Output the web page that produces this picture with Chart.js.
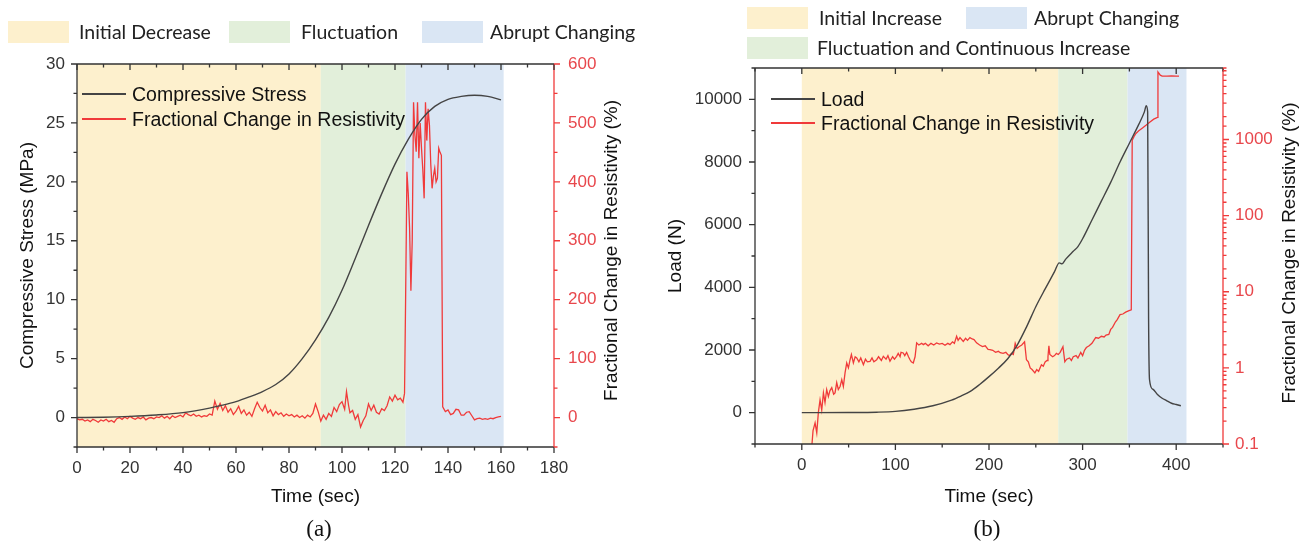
<!DOCTYPE html>
<html>
<head>
<meta charset="utf-8">
<script src="https://cdn.jsdelivr.net/npm/chart.js@4"></script>
<style>
  body { margin: 0; background: #fff; }
  #page { position: relative; width: 1307px; height: 549px; overflow: hidden; font-family: "Liberation Sans", Arial, sans-serif; }
  canvas { position: absolute; top: 0; }
  .patch { position: absolute; width: 61px; height: 22px; }
  .rlab { position: absolute; font-family: Lato, "Open Sans", sans-serif; font-size: 19.5px; color: #222; line-height: 22px; white-space: nowrap; }
  .sline { position: absolute; width: 44px; height: 2px; }
  .slab { position: absolute; font-size: 19.5px; color: #111; line-height: 22px; white-space: nowrap; }
  .cap { position: absolute; font-family: "Liberation Serif", "Times New Roman", serif; font-size: 23px; color: #111; transform: translateX(-50%); }
</style>
</head>
<body>
<div id="page">
  <canvas id="chartA" width="655" height="549" style="left:0"></canvas>
  <canvas id="chartB" width="652" height="549" style="left:655px"></canvas>

  <!-- phase legend (a) -->
  <div class="patch" style="left:8px;top:21px;background:rgb(253,240,205)"></div>
  <div class="rlab" style="left:79px;top:21px">Initial Decrease</div>
  <div class="patch" style="left:229px;top:21px;background:rgb(226,239,218)"></div>
  <div class="rlab" style="left:301px;top:21px">Fluctuation</div>
  <div class="patch" style="left:422px;top:21px;background:rgb(218,230,244)"></div>
  <div class="rlab" style="left:490px;top:21px">Abrupt Changing</div>

  <!-- phase legend (b) -->
  <div class="patch" style="left:747px;top:7px;background:rgb(253,240,205)"></div>
  <div class="rlab" style="left:819px;top:7px">Initial Increase</div>
  <div class="patch" style="left:966px;top:7px;background:rgb(218,230,244)"></div>
  <div class="rlab" style="left:1034px;top:7px">Abrupt Changing</div>
  <div class="patch" style="left:747px;top:37px;background:rgb(226,239,218)"></div>
  <div class="rlab" style="left:817px;top:37px">Fluctuation and Continuous Increase</div>

  <!-- series legend (a) -->
  <div class="sline" style="left:82px;top:93px;background:#444"></div>
  <div class="slab" style="left:132px;top:83px">Compressive Stress</div>
  <div class="sline" style="left:82px;top:118px;background:#f03a3a"></div>
  <div class="slab" style="left:132px;top:108px">Fractional Change in Resistivity</div>

  <!-- series legend (b) -->
  <div class="sline" style="left:771px;top:98px;background:#444"></div>
  <div class="slab" style="left:821px;top:88px">Load</div>
  <div class="sline" style="left:771px;top:122px;background:#f03a3a"></div>
  <div class="slab" style="left:821px;top:112px">Fractional Change in Resistivity</div>

  <div class="cap" style="left:319px;top:516px">(a)</div>
  <div class="cap" style="left:987px;top:516px">(b)</div>
</div>

<script>
// ---------- data (a) ----------
const timeStressA = [0, 10, 20, 30, 40, 50, 55, 60, 65, 70, 75, 80, 85, 90, 95, 100, 105, 110, 115, 120, 125, 130, 135, 140, 145, 150, 155, 160];
const stressA = [0, 0.03, 0.1, 0.22, 0.42, 0.8, 1.05, 1.35, 1.75, 2.2, 2.8, 3.7, 5.0, 6.6, 8.5, 10.8, 13.5, 16.3, 19.0, 21.5, 23.6, 25.3, 26.4, 27.0, 27.25, 27.35, 27.25, 26.95];

const timeResistA = [0, 1, 2, 3, 4, 5, 6, 7, 8, 9, 10, 11, 12, 13, 14, 15, 16, 17, 18, 19, 20, 21, 22, 23, 24, 25, 26, 27, 28, 29,
  30, 31, 32, 33, 34, 35, 36, 37, 38, 39, 40, 41, 42, 43, 44, 45, 46, 47, 48, 49, 50, 51, 52, 53, 54, 55, 56, 57, 58, 59,
  60, 61, 62, 63, 64, 65, 66, 67, 68, 69, 70, 71, 72, 73, 74, 75, 76, 77, 78, 79, 80, 81, 82, 83, 84, 85, 86, 87, 88, 89,
  90, 91, 92, 93, 94, 95, 96, 97, 98, 99, 100, 101, 101.7, 102.5, 103, 104, 105, 106, 107, 108, 109, 110, 111, 112, 113, 114,
  115, 116, 117, 118, 119, 120, 121, 122, 123, 123.6, 124, 124.5, 125, 125.5, 126, 126.5, 127, 127.5, 128, 128.5, 129, 129.5,
  130, 130.5, 131, 131.5, 132, 132.5, 133, 133.5, 134, 134.5, 135, 135.5, 136, 136.5, 137, 137.5, 138, 139, 140, 141, 142,
  143, 144, 145, 146, 147, 148, 149, 150, 151, 152, 153, 154, 155, 156, 157, 158, 159, 160];
const resistA = [-2, -4, -3, -6, -4, -7, -3, -5, -8, -4, -6, -3, -7, -5, -8, -2, 0, -3, 1, -2, 2, -1, -3, 0, -2, 1, -4, -1, 0, -2,
  1, 0, 3, -1, 2, -2, 3, 0, 2, 4, 1, 8, 5, 3, 6, 2, 4, 1, 3, 2, 6, 4, 28, 14, 24, 12, 20, 9, 15, 5,
  11, 19, 7, 13, 4, 9, 2, 15, 26, 17, 11, 21, 8, 13, 3, 10, 5, 8, 2, 6, 3, 5, 1, 4, 0, 3, -1, 4, 1, 7,
  23, 10, -6, 4, -3, 7, 2, 17, 10, 22, 27, 14, 44, 20, 8, 12, -3, 5, -16, -5, 3, 23, 12, 21, 9, 6,
  15, 12, 20, 35, 28, 38, 30, 33, 26, 41, 200, 417, 380, 322, 215, 300, 535, 480, 451, 535, 440, 500,
  457, 420, 372, 535, 470, 524, 496, 430, 389, 410, 423, 400, 406, 457, 450, 445, 18, 10, 13, 5, 7,
  14, 13, 4, 4, 9, 10, 3, -4, -2, -1, -3, -2, -3, -1, -2, 0, 1, 2];

const bandStartA = [0, 92, 124];
const bandEndA = [92, 124, 161];

// ---------- data (b) ----------
const timeLoadB = [0, 50, 80, 100, 120, 140, 160, 170, 180, 190, 200, 210, 220, 230, 240, 250, 260, 270, 275, 278, 282, 290, 295, 300,
  310, 320, 330, 340, 350, 360, 366, 368, 369.5, 370.5, 371.5, 375, 380, 385, 390, 395, 400, 405];
const loadB = [0, 5, 15, 40, 110, 220, 400, 530, 680, 900, 1150, 1420, 1720, 2150, 2730, 3380, 3950, 4500, 4780, 4750, 4900, 5150, 5300, 5550,
  6150, 6750, 7350, 8000, 8600, 9200, 9600, 9800, 9600, 3000, 1050, 750, 580, 460, 380, 300, 260, 220];

const timeResistB = [8, 10.6, 12, 14.2, 16, 17.7, 19.5, 21.3, 23.1, 24.8, 26.6, 28.4, 30, 32, 34, 35.5, 37.3, 39, 40.9, 42.7,
  44.4, 46.2, 48, 49.8, 51.6, 53, 55.1, 57, 58.7, 61, 63, 65.8, 68, 70, 72.9, 75, 77, 80, 82, 85, 87.1, 90, 92, 94.2, 97, 99,
  101.3, 103, 105, 106, 108.4, 110, 112, 114, 115.6, 117, 119.1, 121, 122.7, 125, 128, 129.8, 132, 135, 138, 141, 144, 147,
  150, 153, 156, 158.3, 161, 163, 165.4, 167, 169, 172.5, 175, 177, 179.6, 182, 184, 186.7, 190, 193, 196, 199, 201, 204,
  207, 210, 212, 215, 218, 220, 222, 224, 226, 228, 230, 232, 235, 238, 240, 242, 244, 246, 249, 251, 253, 256, 258, 260,
  262, 263, 264, 265, 268, 270, 272, 274, 276, 279, 281, 283, 286, 288, 290, 293, 295, 298, 300, 302, 304, 307, 310, 312,
  314, 317, 320, 323, 325, 328, 330, 332, 335, 337, 340, 343, 346, 349, 352, 353, 355, 357, 360, 364, 368, 372, 376, 380,
  380.5, 383, 385, 390, 395, 400, 403];
const resistB = [0.05, 0.09, 0.15, 0.19, 0.14, 0.26, 0.38, 0.28, 0.47, 0.35, 0.52, 0.42, 0.5, 0.55, 0.45, 0.47, 0.64, 0.52, 0.57, 0.7,
  0.57, 0.86, 1.16, 1.0, 1.28, 1.5, 1.16, 1.4, 1.35, 1.2, 1.35, 1.1, 1.3, 1.2, 1.22, 1.35, 1.2, 1.28, 1.4, 1.25, 1.42, 1.3, 1.45, 1.22, 1.4, 1.3,
  1.42, 1.55, 1.4, 1.6, 1.57, 1.45, 1.6, 1.4, 1.28, 1.2, 1.16, 1.4, 2.13, 2.0, 2.1, 2.02, 2.1, 1.95, 2.1, 2.0, 2.13, 2.05,
  2.1, 1.98, 2.1, 2.02, 2.2, 2.1, 2.6, 2.3, 2.5, 2.23, 2.45, 2.3, 2.5, 2.4, 2.35, 2.13, 2.0, 1.9, 1.95, 1.75, 1.74, 1.7,
  1.6, 1.65, 1.58, 1.55, 1.6, 1.5, 1.45, 1.55, 1.5, 2.1, 1.8, 1.9, 2.0, 2.2, 1.28, 1.2, 1.0, 0.95, 0.86, 0.95, 0.9, 1.1, 1.05, 1.2,
  1.25, 1.4, 1.95, 1.5, 1.4, 1.45, 1.55, 1.5, 1.6, 1.9, 1.2, 1.3, 1.35, 1.25, 1.4, 1.45, 1.35, 1.6, 1.45, 1.7, 1.85, 1.95, 2.1, 2.3,
  2.5, 2.45, 2.6, 2.55, 2.7, 2.75, 3.2, 3.4, 4.0, 4.3, 5.0, 5.1, 5.4, 5.6, 5.8, 980, 1100, 1200, 1300, 1420, 1550, 1700, 1850, 1950,
  7700, 7000, 6800, 6800, 6850, 6800, 6800];

const bandStartB = [0, 274, 348];
const bandEndB = [274, 348, 411];

const bandColors = ['rgb(253,240,205)', 'rgb(226,239,218)', 'rgb(218,230,244)'];
const RED = '#f03a3a';
const DARK = '#444';

function pairs(xs, ys) {
    return xs.map((x, i) => ({ x: x, y: ys[i] }));
}

// shading, frame, tick marks and the rotated right-hand title
const framePlugin = {
    id: 'frame',
    beforeDatasetsDraw(chart, args, opts) {
        const { ctx, chartArea: a } = chart;
        const xs = chart.scales.x;
        ctx.save();
        opts.bandStart.forEach((b, i) => {
            const x0 = xs.getPixelForValue(b);
            const x1 = xs.getPixelForValue(opts.bandEnd[i]);
            ctx.fillStyle = bandColors[i];
            ctx.fillRect(x0, a.top, x1 - x0, a.bottom - a.top);
        });
        ctx.restore();
    },
    afterDraw(chart, args, opts) {
        const { ctx, chartArea: a } = chart;
        ctx.save();
        ctx.lineWidth = 1.3;

        // frame: left, bottom, top dark; right red
        ctx.strokeStyle = '#333';
        ctx.beginPath();
        ctx.moveTo(a.left, a.top); ctx.lineTo(a.right, a.top);
        ctx.moveTo(a.left, a.top); ctx.lineTo(a.left, a.bottom); ctx.lineTo(a.right, a.bottom);
        ctx.stroke();
        ctx.strokeStyle = RED;
        ctx.beginPath();
        ctx.moveTo(a.right, a.top); ctx.lineTo(a.right, a.bottom);
        ctx.stroke();

        const tickLen = t => (t.label === '' ? 3.5 : 6);
        // x ticks, out at the bottom and in from the top
        const xs = chart.scales.x;
        ctx.strokeStyle = '#333';
        ctx.beginPath();
        xs.ticks.forEach(t => {
            const p = xs.getPixelForValue(t.value);
            ctx.moveTo(p, a.bottom); ctx.lineTo(p, a.bottom + tickLen(t));
            ctx.moveTo(p, a.top); ctx.lineTo(p, a.top + tickLen(t));
        });
        ctx.stroke();
        // left ticks
        const yl = chart.scales.y;
        ctx.beginPath();
        yl.ticks.forEach(t => {
            const p = yl.getPixelForValue(t.value);
            ctx.moveTo(a.left, p); ctx.lineTo(a.left - tickLen(t), p);
        });
        ctx.stroke();
        // right ticks
        const yr = chart.scales.y2;
        ctx.strokeStyle = RED;
        ctx.beginPath();
        yr.ticks.forEach(t => {
            const p = yr.getPixelForValue(t.value);
            ctx.moveTo(a.right, p); ctx.lineTo(a.right + tickLen(t), p);
        });
        ctx.stroke();

        // right axis title, reading bottom to top
        ctx.translate(a.right + opts.titleOffset, (a.top + a.bottom) / 2 + opts.titleShift);
        ctx.rotate(-Math.PI / 2);
        ctx.font = '19px "Liberation Sans", Arial, sans-serif';
        ctx.fillStyle = '#111';
        ctx.textAlign = 'center';
        ctx.textBaseline = 'middle';
        ctx.fillText('Fractional Change in Resistivity (%)', 0, 0);
        ctx.restore();
    }
};

const tickFont = { family: '"Liberation Sans", Arial, sans-serif', size: 17 };
const titleFont = { family: '"Liberation Sans", Arial, sans-serif', size: 19 };

function linearAxis(opts) {
    return {
        type: 'linear',
        position: opts.position,
        min: opts.min,
        max: opts.max,
        grid: { display: false, drawTicks: false },
        border: { display: false },
        ticks: {
            stepSize: opts.step,
            autoSkip: false,
            maxRotation: 0,
            minRotation: 0,
            padding: opts.padding,
            color: opts.color,
            font: tickFont,
            callback: v => (Math.abs(v % opts.major) < 1e-9 ? String(v) : '')
        },
        title: opts.title ? { display: true, text: opts.title, color: '#111', font: titleFont, padding: opts.titlePad } : { display: false },
        afterFit: s => {
            if (opts.width !== undefined) s.width = opts.width;
            if (opts.height !== undefined) s.height = opts.height;
        }
    };
}

function baseOptions(top) {
    return {
        responsive: false,
        animation: false,
        events: [],
        layout: { padding: { top: top, left: 0, right: 0, bottom: 0 } },
        plugins: { legend: { display: false }, tooltip: { enabled: false } }
    };
}

// ---------- chart (a) ----------
const optsA = baseOptions(64);
optsA.scales = {
    x: linearAxis({ position: 'bottom', min: 0, max: 180, step: 10, major: 20, padding: 11, color: '#333',
        title: 'Time (sec)', titlePad: { top: 0, bottom: 41 }, height: 102 }),
    y: linearAxis({ position: 'left', min: -2.5, max: 30, step: 2.5, major: 5, padding: 12, color: '#333',
        title: 'Compressive Stress (MPa)', titlePad: { top: 16, bottom: 0 }, width: 77 }),
    y2: linearAxis({ position: 'right', min: -50, max: 600, step: 50, major: 100, padding: 14, color: '#e8474c', width: 101 })
};
optsA.plugins.frame = { bandStart: bandStartA, bandEnd: bandEndA, titleOffset: 58, titleShift: -5 };

new Chart(document.getElementById('chartA'), {
    type: 'line',
    data: {
        datasets: [
            { label: 'Compressive Stress', data: pairs(timeStressA, stressA), yAxisID: 'y', borderColor: DARK, borderWidth: 1.4,
              pointRadius: 0, cubicInterpolationMode: 'monotone' },
            { label: 'Fractional Change in Resistivity', data: pairs(timeResistA, resistA), yAxisID: 'y2', borderColor: RED,
              borderWidth: 1.3, pointRadius: 0, tension: 0 }
        ]
    },
    options: optsA,
    plugins: [framePlugin]
});

// ---------- chart (b) ----------
const optsB = baseOptions(68);
optsB.scales = {
    x: linearAxis({ position: 'bottom', min: -50, max: 450, step: 50, major: 100, padding: 11, color: '#333',
        title: 'Time (sec)', titlePad: { top: 0, bottom: 41 }, height: 105 }),
    y: linearAxis({ position: 'left', min: -1000, max: 11000, step: 1000, major: 2000, padding: 13, color: '#333',
        title: 'Load (N)', titlePad: { top: 9, bottom: 0 }, width: 100 }),
    y2: {
        type: 'logarithmic',
        position: 'right',
        min: 0.1,
        max: 8700,
        grid: { display: false, drawTicks: false },
        border: { display: false },
        ticks: {
            autoSkip: false,
            padding: 12,
            color: '#e8474c',
            font: tickFont,
            callback: v => {
                const e = Math.log10(v);
                return Math.abs(e - Math.round(e)) < 1e-6 ? String(v) : '';
            }
        },
        afterFit: s => { s.width = 84; }
    }
};
optsB.plugins.frame = { bandStart: bandStartB, bandEnd: bandEndB, titleOffset: 67, titleShift: -3 };

new Chart(document.getElementById('chartB'), {
    type: 'line',
    data: {
        datasets: [
            { label: 'Load', data: pairs(timeLoadB, loadB), yAxisID: 'y', borderColor: DARK, borderWidth: 1.4,
              pointRadius: 0, cubicInterpolationMode: 'monotone' },
            { label: 'Fractional Change in Resistivity', data: pairs(timeResistB, resistB), yAxisID: 'y2', borderColor: RED,
              borderWidth: 1.3, pointRadius: 0, tension: 0 }
        ]
    },
    options: optsB,
    plugins: [framePlugin]
});
</script>
</body>
</html>
